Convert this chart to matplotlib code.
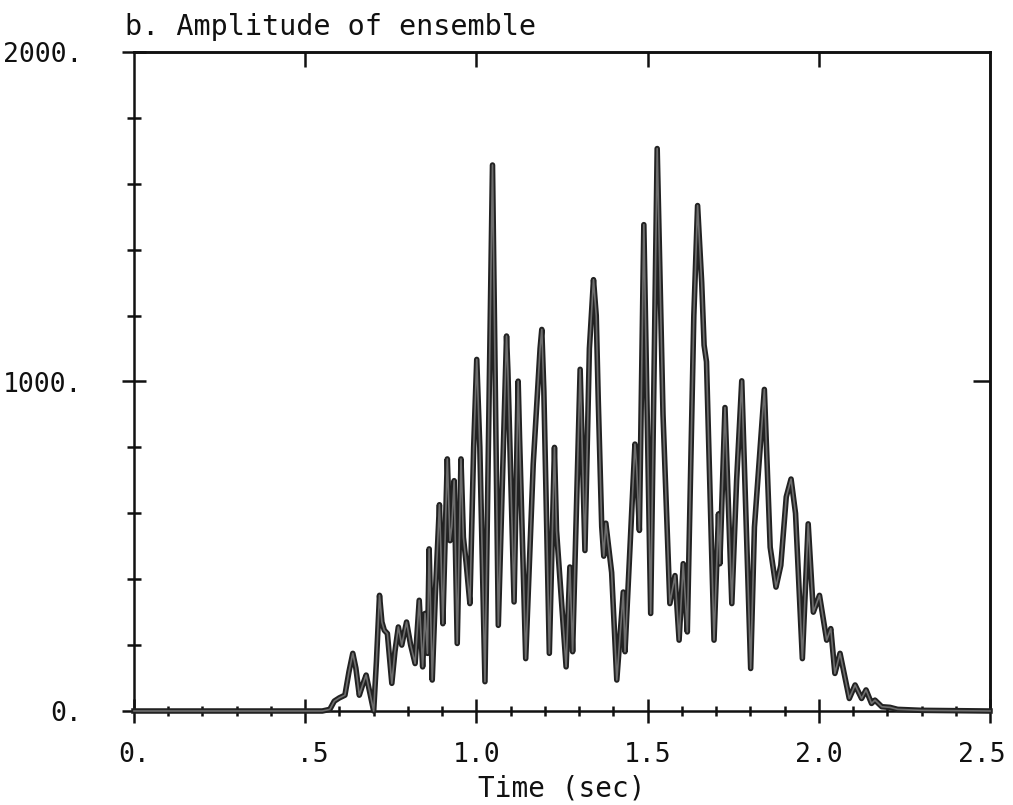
import matplotlib
matplotlib.use("Agg")
import matplotlib.pyplot as plt
import matplotlib.patheffects as pe
import matplotlib.transforms as mtransforms
from matplotlib.ticker import MultipleLocator, FixedLocator

# Ensemble amplitude envelope: time (s) and amplitude at peaks, troughs and shoulders
time_sec = [
    0.000, 0.550, 0.572, 0.585, 0.600, 0.616, 0.628, 0.639, 0.648, 0.658,
    0.668, 0.678, 0.688, 0.700, 0.708, 0.717, 0.724, 0.731, 0.740, 0.753,
    0.762, 0.772, 0.782, 0.796, 0.808, 0.821, 0.833, 0.843, 0.850, 0.857,
    0.862, 0.871, 0.880, 0.892, 0.896, 0.902, 0.915, 0.923, 0.928, 0.935,
    0.944, 0.955, 0.962, 0.970, 0.981, 0.992, 1.001, 1.010, 1.025, 1.047,
    1.064, 1.088, 1.092, 1.110, 1.122, 1.126, 1.144, 1.166, 1.186, 1.191,
    1.197, 1.213, 1.228, 1.234, 1.262, 1.273, 1.281, 1.303, 1.317, 1.330,
    1.342, 1.350, 1.356, 1.366, 1.372, 1.378, 1.386, 1.395, 1.410, 1.429,
    1.434, 1.463, 1.468, 1.476, 1.489, 1.509, 1.528, 1.545, 1.565, 1.580,
    1.592, 1.604, 1.616, 1.635, 1.646, 1.658, 1.665, 1.672, 1.694, 1.707,
    1.711, 1.726, 1.746, 1.760, 1.775, 1.801, 1.812, 1.841, 1.858, 1.875,
    1.889, 1.905, 1.919, 1.932, 1.952, 1.969, 1.984, 2.002, 2.023, 2.035,
    2.047, 2.062, 2.089, 2.106, 2.125, 2.138, 2.154, 2.164, 2.184, 2.208,
    2.230, 2.300, 2.500,
]
amplitude = [
    0, 0, 5, 30, 40, 48, 120, 175, 130, 48,
    80, 109, 60, 0, 150, 351, 270, 245, 235, 84,
    180, 255, 200, 270, 200, 144, 336, 134, 296, 175,
    492, 94, 350, 626, 497, 265, 765, 517, 560, 699,
    205, 765, 527, 450, 326, 800, 1067, 800, 89, 1657,
    260, 1138, 1032, 331, 1001, 830, 159, 750, 1100, 1158,
    971, 175, 800, 548, 134, 437, 180, 1037, 487, 1100,
    1309, 1200, 940, 560, 470, 570, 500, 420, 94, 361,
    180, 810, 740, 548, 1476, 296, 1707, 900, 326, 411,
    215, 447, 240, 1200, 1534, 1300, 1110, 1060, 215, 598,
    447, 921, 326, 700, 1002, 129, 558, 976, 497, 376,
    442, 650, 704, 600, 159, 568, 300, 351, 215, 250,
    114, 175, 38, 79, 38, 64, 23, 33, 13, 11,
    5, 2, 0,
]

x_major = [0.0, 0.5, 1.0, 1.5, 2.0, 2.5]
x_labels = ["0.", " .5", "1.0", "1.5", "2.0", "2.5"]
y_major = [0, 1000, 2000]
y_labels = ["0.", "1000.", "2000."]
top_ticks = [0.5, 1.0, 1.5, 2.0]
right_ticks = [1000]

mono = "DejaVu Sans Mono"
ink = "#111111"

fig = plt.figure(figsize=(10.13, 8.05), dpi=100)
ax = fig.add_axes([134 / 1013, 1 - 711 / 805, (990 - 134) / 1013, (711 - 52) / 805])

ax.plot(time_sec, amplitude, color="#6e6e6e", lw=1.2, solid_joinstyle="round",
        path_effects=[pe.Stroke(linewidth=4.0, foreground="#222222"), pe.Normal()],
        zorder=3, clip_on=False)

ax.set_xlim(0, 2.5)
ax.set_ylim(0, 2000)

for s in ax.spines.values():
    s.set_linewidth(1.8)
    s.set_color(ink)

ax.xaxis.set_major_locator(FixedLocator(x_major))
ax.set_xticklabels(x_labels, fontfamily=mono, fontsize=19)
ax.xaxis.set_minor_locator(MultipleLocator(0.1))
ax.yaxis.set_major_locator(FixedLocator(y_major))
ax.set_yticklabels(y_labels, fontfamily=mono, fontsize=19)
ax.yaxis.set_minor_locator(MultipleLocator(200))

ax.tick_params(axis="x", which="major", direction="inout", length=17, width=1.8,
               pad=14, top=False, color=ink, labelcolor=ink)
ax.tick_params(axis="x", which="minor", direction="inout", length=7, width=1.8,
               top=False, color=ink)
ax.tick_params(axis="y", which="major", direction="inout", length=17, width=1.8,
               pad=29, right=False, color=ink, labelcolor=ink)
ax.tick_params(axis="y", which="minor", direction="inout", length=10, width=1.8,
               right=False, color=ink)

# The last time label sits a little left of its tick, inside the frame edge
last = ax.get_xticklabels()[-1]
last.set_transform(last.get_transform() +
                   mtransforms.ScaledTranslation(-8 / 100, 0, fig.dpi_scale_trans))

# Inward ticks on the top and right frame edges
top = ax.secondary_xaxis("top")
top.xaxis.set_major_locator(FixedLocator(top_ticks))
top.xaxis.set_minor_locator(FixedLocator([]))
top.tick_params(direction="in", length=11, width=1.8, labeltop=False, color=ink)
top.spines["top"].set_linewidth(1.8)

right = ax.secondary_yaxis("right")
right.yaxis.set_major_locator(FixedLocator(right_ticks))
right.yaxis.set_minor_locator(FixedLocator([]))
right.tick_params(direction="in", length=12, width=1.8, labelright=False, color=ink)
right.spines["right"].set_linewidth(1.8)

fig.text(125 / 1013, 1 - 27 / 805, "b. Amplitude of ensemble", fontfamily=mono,
         fontsize=20.5, ha="left", va="center", color=ink)
fig.text(562 / 1013, 1 - 788 / 805, "Time (sec)", fontfamily=mono, fontsize=20,
         ha="center", va="center", color=ink)

fig.savefig("out.png", dpi=100, facecolor="white")
